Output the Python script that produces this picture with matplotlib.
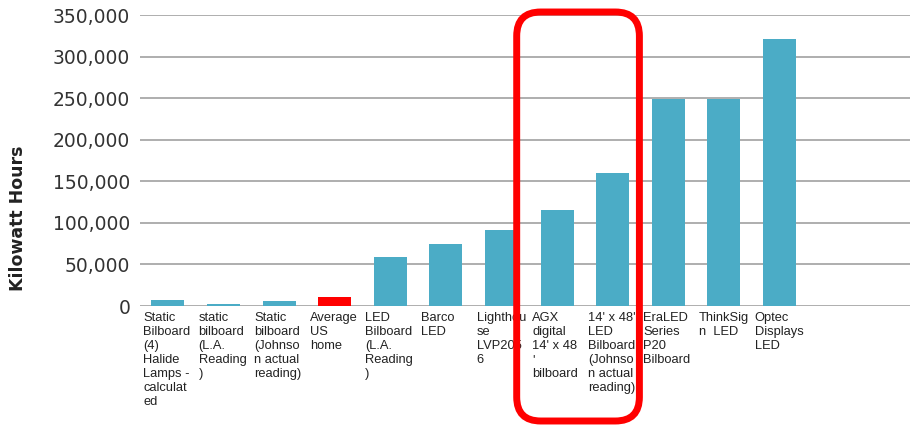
import matplotlib
matplotlib.use("Agg")
import matplotlib.pyplot as plt
from matplotlib.patches import FancyBboxPatch
from matplotlib.ticker import FuncFormatter

categories = [
    "Static\nBilboard\n(4)\nHalide\nLamps -\ncalculat\ned",
    "static\nbilboard\n(L.A.\nReading\n)",
    "Static\nbilboard\n(Johnso\nn actual\nreading)",
    "Average\nUS\nhome",
    "LED\nBilboard\n(L.A.\nReading\n)",
    "Barco\nLED",
    "Lighthou\nse\nLVP205\n6",
    "AGX\ndigital\n14' x 48\n'\nbilboard",
    "14' x 48'\nLED\nBilboard\n(Johnso\nn actual\nreading)",
    "EraLED\nSeries\nP20\nBilboard",
    "ThinkSig\nn  LED",
    "Optec\nDisplays\nLED",
]
kwh = [6900, 2900, 6000, 10800, 59500, 74300, 91600, 115500, 160500, 249000, 249000, 321500]
bar_colors = ["#4BACC6"] * 3 + ["#FF0000"] + ["#4BACC6"] * 8
yticks = [0, 50000, 100000, 150000, 200000, 250000, 300000, 350000]
highlight = (7, 8)  # indices of categories inside red box

W, H = 910, 428
fig = plt.figure(figsize=(W / 100, H / 100), dpi=100)
ax_left, ax_right, ax_top, ax_bottom = 140, 910, 15.2, 306
ax = fig.add_axes([ax_left / W, (H - ax_bottom) / H, (ax_right - ax_left) / W, (ax_bottom - ax_top) / H])

slot = 55.6
n = len(categories)
xs = list(range(n))
ax.bar(xs, kwh, width=33 / slot, color=bar_colors, zorder=3)
ax.set_xlim(-0.5, -0.5 + (ax_right - ax_left) / slot)
ax.set_ylim(0, 350000)
ax.set_yticks(yticks)
ax.yaxis.set_major_formatter(FuncFormatter(lambda v, p: f"{int(v):,}"))
ax.tick_params(axis="y", length=0, pad=7, labelsize=13.5, labelcolor="#333333")
ax.tick_params(axis="x", length=0, labelbottom=False)
ax.set_xticks([])
for s in ax.spines.values():
    s.set_visible(False)
ax.grid(axis="y", color="#A8A8A8", linewidth=1.3, zorder=0)

ax.set_ylabel("Kilowatt Hours", fontsize=12.5, fontweight="bold", color="#222222")
ax.yaxis.set_label_coords((27 - ax_left) / (ax_right - ax_left), (ax_bottom - 218) / (ax_bottom - ax_top))

for i, lab in enumerate(categories):
    ax.text(i - 0.5 + 3 / slot, -0.02, lab, transform=ax.get_xaxis_transform(),
            ha="left", va="top", fontsize=9.3, family="Liberation Sans",
            color="#222222", linespacing=1.22, clip_on=False)

fig.canvas.draw()
x0 = ax.transData.transform((highlight[0] - 0.5 - 12.5 / slot, 0))[0]
x1 = ax.transData.transform((highlight[1] + 0.5 - 1 / slot, 0))[0]
y_bot, y_top = 7, H - 12
box = FancyBboxPatch((x0, y_bot), x1 - x0, y_top - y_bot,
                     boxstyle="round,pad=0,rounding_size=24",
                     transform=None, fill=False, edgecolor="#FF0000",
                     linewidth=5.0, clip_on=False, zorder=10)
fig.patches.append(box)

fig.savefig("out.png", dpi=100)
